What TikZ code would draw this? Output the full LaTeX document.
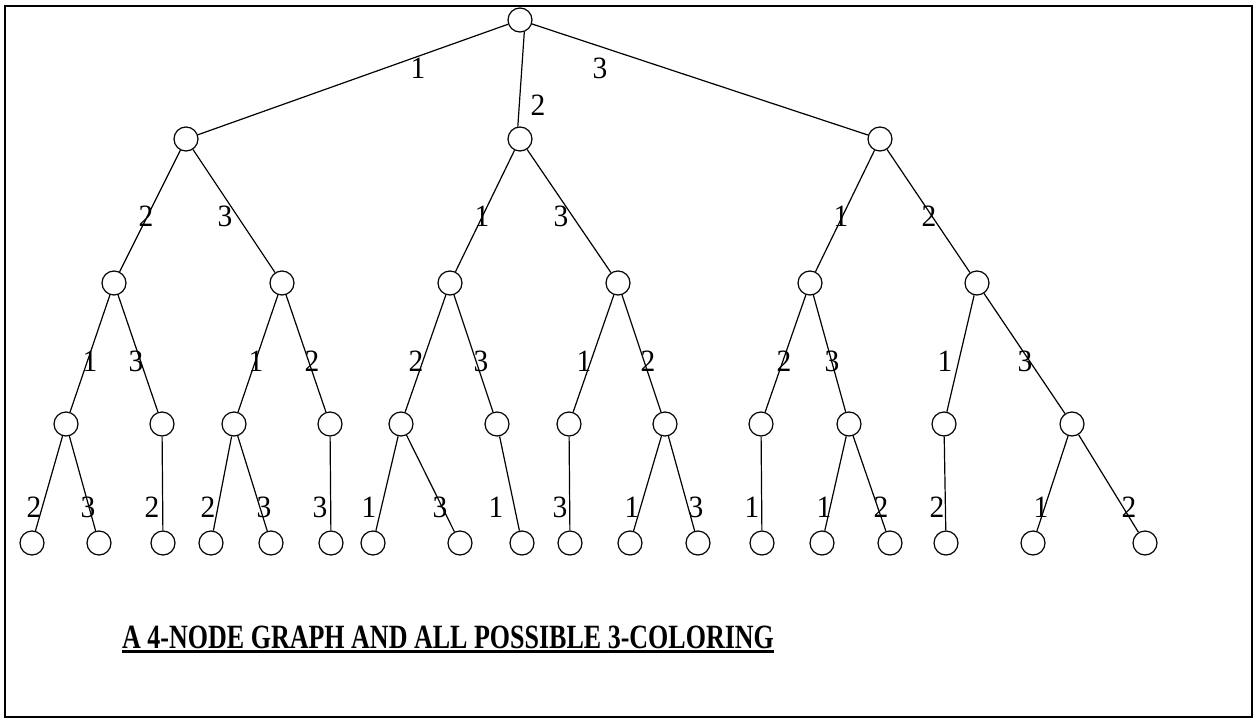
\documentclass[tikz,border=0pt]{standalone}
\usepackage{fontspec}
\usepackage{graphicx}
\setmainfont{Liberation Serif}
\newfontfamily\titlefont{Liberation Serif}[BoldFont={Liberation Serif Bold}]

\tikzset{
  vtx/.style={circle, draw, line width=1.2pt, minimum size=24pt, inner sep=0pt},
  lab/.style={inner sep=0pt, anchor=center, font=\fontsize{31}{31}\selectfont},
  branch/.style={line width=1.2pt},
  frame/.style={line width=2pt},
}

\newcommand{\dg}[1]{\scalebox{0.95}[1]{#1}}

\begin{document}
\begin{tikzpicture}[x=1pt, y=-1pt]
\useasboundingbox (0,0) rectangle (1256,723);
\draw[frame] (5,6) rectangle (1252,717);

% root and first level
\node[vtx] (R) at (520,20) {};
\node[vtx] (A) at (186,139) {};
\node[vtx] (B) at (520,139) {};
\node[vtx] (C) at (880,139) {};

% second level
\node[vtx] (AA) at (114,283) {};
\node[vtx] (AB) at (282,283) {};
\node[vtx] (BA) at (450,283) {};
\node[vtx] (BB) at (618,283) {};
\node[vtx] (CA) at (810,283) {};
\node[vtx] (CB) at (977,283) {};

% third level
\node[vtx] (AAa) at (66,424) {};
\node[vtx] (AAb) at (162,424) {};
\node[vtx] (ABa) at (234,424) {};
\node[vtx] (ABb) at (330,424) {};
\node[vtx] (BAa) at (401,424) {};
\node[vtx] (BAb) at (497,424) {};
\node[vtx] (BBa) at (569,424) {};
\node[vtx] (BBb) at (665,424) {};
\node[vtx] (CAa) at (761,424) {};
\node[vtx] (CAb) at (849,424) {};
\node[vtx] (CBa) at (944,424) {};
\node[vtx] (CBb) at (1072,424) {};

% leaves
\node[vtx] (L1) at (32,543) {};
\node[vtx] (L2) at (99,543) {};
\node[vtx] (L3) at (163,543) {};
\node[vtx] (L4) at (211,543) {};
\node[vtx] (L5) at (271,543) {};
\node[vtx] (L6) at (331,543) {};
\node[vtx] (L7) at (373,543) {};
\node[vtx] (L8) at (460,543) {};
\node[vtx] (L9) at (522,543) {};
\node[vtx] (L10) at (570,543) {};
\node[vtx] (L11) at (630,543) {};
\node[vtx] (L12) at (698,543) {};
\node[vtx] (L13) at (762,543) {};
\node[vtx] (L14) at (822,543) {};
\node[vtx] (L15) at (890,543) {};
\node[vtx] (L16) at (946,543) {};
\node[vtx] (L17) at (1033,543) {};
\node[vtx] (L18) at (1145,543) {};

% branches
\draw[branch] (R) -- (A);
\draw[branch] (R.290) -- (B.100);
\draw[branch] (R) -- (C);
\draw[branch] (A) -- (AA);
\draw[branch] (A) -- (AB);
\draw[branch] (B) -- (BA);
\draw[branch] (B) -- (BB);
\draw[branch] (C) -- (CA);
\draw[branch] (C) -- (CB);
\draw[branch] (AA) -- (AAa);
\draw[branch] (AA) -- (AAb);
\draw[branch] (AB) -- (ABa);
\draw[branch] (AB) -- (ABb);
\draw[branch] (BA) -- (BAa);
\draw[branch] (BA) -- (BAb);
\draw[branch] (BB) -- (BBa);
\draw[branch] (BB) -- (BBb);
\draw[branch] (CA) -- (CAa);
\draw[branch] (CA) -- (CAb);
\draw[branch] (CB) -- (CBa);
\draw[branch] (CB) -- (CBb);
\draw[branch] (AAa) -- (L1);
\draw[branch] (AAa) -- (L2);
\draw[branch] (AAb) -- (L3);
\draw[branch] (ABa) -- (L4);
\draw[branch] (ABa) -- (L5);
\draw[branch] (ABb) -- (L6);
\draw[branch] (BAa) -- (L7);
\draw[branch] (BAa) -- (L8);
\draw[branch] (BAb) -- (L9);
\draw[branch] (BBa) -- (L10);
\draw[branch] (BBb) -- (L11);
\draw[branch] (BBb) -- (L12);
\draw[branch] (CAa) -- (L13);
\draw[branch] (CAb) -- (L14);
\draw[branch] (CAb) -- (L15);
\draw[branch] (CBa) -- (L16);
\draw[branch] (CBb) -- (L17);
\draw[branch] (CBb) -- (L18);

% colour labels, first level
\node[lab] (tA) at (418,68) {\dg{1}};
\node[lab] (tB) at (538,105) {\dg{2}};
\node[lab] (tC) at (600,68) {\dg{3}};

% colour labels, second level
\node[lab] (tAA) at (146,216) {\dg{2}};
\node[lab] (tAB) at (225,216) {\dg{3}};
\node[lab] (tBA) at (482,216) {\dg{1}};
\node[lab] (tBB) at (561,216) {\dg{3}};
\node[lab] (tCA) at (841,216) {\dg{1}};
\node[lab] (tCB) at (929,216) {\dg{2}};

% colour labels, third level
\node[lab] (tAAa) at (90,361) {\dg{1}};
\node[lab] (tAAb) at (136,361) {\dg{3}};
\node[lab] (tABa) at (256,361) {\dg{1}};
\node[lab] (tABb) at (312,361) {\dg{2}};
\node[lab] (tBAa) at (416,361) {\dg{2}};
\node[lab] (tBAb) at (481,361) {\dg{3}};
\node[lab] (tBBa) at (584,361) {\dg{1}};
\node[lab] (tBBb) at (648,361) {\dg{2}};
\node[lab] (tCAa) at (784,361) {\dg{2}};
\node[lab] (tCAb) at (832,361) {\dg{3}};
\node[lab] (tCBa) at (945,361) {\dg{1}};
\node[lab] (tCBb) at (1025,361) {\dg{3}};

% colour labels, leaves
\node[lab] (t1) at (34,507) {\dg{2}};
\node[lab] (t2) at (88,507) {\dg{3}};
\node[lab] (t3) at (152,507) {\dg{2}};
\node[lab] (t4) at (208,507) {\dg{2}};
\node[lab] (t5) at (264,507) {\dg{3}};
\node[lab] (t6) at (320,507) {\dg{3}};
\node[lab] (t7) at (369,507) {\dg{1}};
\node[lab] (t8) at (440,507) {\dg{3}};
\node[lab] (t9) at (496,507) {\dg{1}};
\node[lab] (t10) at (560,507) {\dg{3}};
\node[lab] (t11) at (632,507) {\dg{1}};
\node[lab] (t12) at (696,507) {\dg{3}};
\node[lab] (t13) at (752,507) {\dg{1}};
\node[lab] (t14) at (824,507) {\dg{1}};
\node[lab] (t15) at (881,507) {\dg{2}};
\node[lab] (t16) at (937,507) {\dg{2}};
\node[lab] (t17) at (1041,507) {\dg{1}};
\node[lab] (t18) at (1129,507) {\dg{2}};

% caption
\node[anchor=base west, inner sep=0pt] (title) at (122,648)
  {\titlefont\bfseries\fontsize{34}{34}\selectfont\scalebox{0.765}[1]{A 4-NODE GRAPH AND ALL POSSIBLE 3-COLORING}};
\draw[line width=3pt] ([yshift=-3.5pt]title.base west) -- ([yshift=-3.5pt]title.base east);
\end{tikzpicture}
\end{document}
